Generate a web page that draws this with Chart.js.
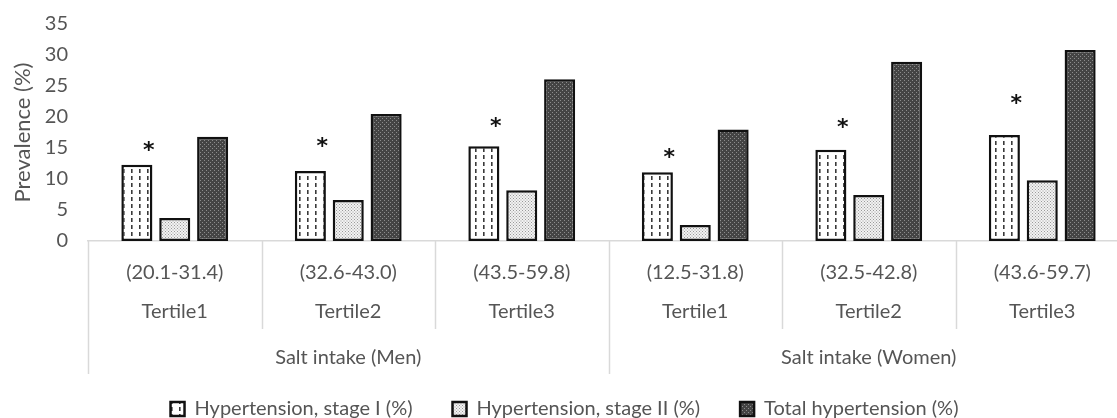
<!DOCTYPE html>
<html>
<head>
<meta charset="utf-8">
<script src="https://cdn.jsdelivr.net/npm/chart.js@4.4.0/dist/chart.umd.min.js"></script>
<style>
  html, body { margin: 0; padding: 0; background: #fff; overflow: hidden; }
  #wrap { width: 1140px; height: 418px; position: relative; }
</style>
</head>
<body>
<div id="wrap"><canvas id="chart"></canvas></div>
<script>
// Data
const ranges = ['(20.1-31.4)', '(32.6-43.0)', '(43.5-59.8)', '(12.5-31.8)', '(32.5-42.8)', '(43.6-59.7)'];
const tertiles = ['Tertile1', 'Tertile2', 'Tertile3', 'Tertile1', 'Tertile2', 'Tertile3'];
const groups = ['Salt intake (Men)', 'Salt intake (Women)'];
const stage1 = [12.3, 11.3, 15.3, 11.1, 14.7, 17.1];
const stage2 = [3.7, 6.6, 8.2, 2.6, 7.4, 9.8];
const totalHt = [16.8, 20.5, 26.1, 18.0, 28.9, 30.8];
const starLevel = [15.5, 16.1, 19.4, 14.4, 19.2, 23.1];
const seriesNames = ['Hypertension, stage I (%)', 'Hypertension, stage II (%)', 'Total hypertension (%)'];
const yMin = 0, yMax = 35, yStep = 5;

const textGrey = '#555555';
const lineGrey = '#d9d9d9';
const fontFamily = 'Lato, "Open Sans", sans-serif';

function makePattern(w, h, draw) {
  const c = document.createElement('canvas');
  c.width = w;
  c.height = h;
  const g = c.getContext('2d');
  draw(g);
  return g.createPattern(c, 'repeat');
}

// white with short vertical dashes
const dashPattern = makePattern(8, 7, g => {
  g.fillStyle = '#ffffff';
  g.fillRect(0, 0, 8, 7);
  g.fillStyle = '#3a3a3a';
  g.fillRect(3, 1, 1.6, 4);
});
// light grey fine dots
const lightDots = makePattern(3, 3, g => {
  g.fillStyle = '#f2f2f2';
  g.fillRect(0, 0, 3, 3);
  g.fillStyle = '#9a9a9a';
  g.fillRect(0, 0, 1, 1);
  g.fillRect(1.5, 1.5, 1, 1);
});
// dark grey checker dots
const darkDots = makePattern(4, 4, g => {
  g.fillStyle = '#444444';
  g.fillRect(0, 0, 4, 4);
  g.fillStyle = '#8c8c8c';
  g.fillRect(0, 0, 1, 1);
  g.fillRect(2, 2, 1, 1);
});

// Category labels, separators and asterisks
const axisLabels = {
  id: 'axisLabels',
  afterDraw(chart) {
    const { ctx, chartArea, scales } = chart;
    const x = scales.x;
    const bottom = chartArea.bottom;
    const step = x.getPixelForValue(1) - x.getPixelForValue(0);
    const start = x.getPixelForValue(0) - step / 2;
    const perGroup = tertiles.length / groups.length;

    ctx.save();
    ctx.strokeStyle = lineGrey;
    ctx.lineWidth = 1.5;
    for (let i = 0; i <= tertiles.length; i++) {
      const xb = Math.round(start + i * step) + 0.5;
      const long = i % perGroup === 0;
      ctx.beginPath();
      ctx.moveTo(xb, bottom);
      ctx.lineTo(xb, bottom + (long ? 133 : 88));
      ctx.stroke();
    }

    ctx.fillStyle = textGrey;
    ctx.font = '20px ' + fontFamily;
    ctx.textAlign = 'center';
    ctx.textBaseline = 'middle';
    tertiles.forEach((t, i) => {
      const cx = x.getPixelForValue(i);
      ctx.fillText(ranges[i], cx, bottom + 32);
      ctx.fillText(t, cx, bottom + 71);
    });
    groups.forEach((g, k) => {
      const cx = start + (k + 0.5) * perGroup * step;
      ctx.fillText(g, cx, bottom + 117);
    });

    // significance markers
    const meta = chart.getDatasetMeta(0);
    ctx.fillStyle = '#111';
    ctx.font = 'bold 22px "DejaVu Sans", sans-serif';
    ctx.textBaseline = 'alphabetic';
    starLevel.forEach((v, i) => {
      const bar = meta.data[i];
      const py = scales.y.getPixelForValue(v);
      ctx.fillText('*', bar.x + 12, py + 12);
    });
    ctx.restore();
  }
};

const ctx = document.getElementById('chart');
new Chart(ctx, {
  type: 'bar',
  data: {
    labels: tertiles,
    datasets: [
      { label: seriesNames[0], data: stage1, backgroundColor: dashPattern },
      { label: seriesNames[1], data: stage2, backgroundColor: lightDots },
      { label: seriesNames[2], data: totalHt, backgroundColor: darkDots }
    ].map(d => Object.assign(d, {
      borderColor: '#111111',
      borderWidth: 2.5,
      borderSkipped: false,
      categoryPercentage: 0.655,
      barPercentage: 0.82
    }))
  },
  options: {
    responsive: true,
    maintainAspectRatio: false,
    animation: false,
    layout: { padding: { top: -2, right: 11, left: 0, bottom: -11 } },
    plugins: {
      tooltip: { enabled: false },
      legend: {
        position: 'bottom',
        labels: {
          color: textGrey,
          font: { family: fontFamily, size: 20 },
          boxWidth: 14,
          boxHeight: 14,
          padding: 40
        }
      }
    },
    scales: {
      x: {
        grid: { display: false },
        border: { display: true, color: lineGrey, width: 1.5 },
        ticks: { display: false },
        afterFit: scale => { scale.height = 118; }
      },
      y: {
        min: yMin,
        max: yMax,
        grid: { display: false },
        border: { display: false },
        ticks: {
          stepSize: yStep,
          padding: 12,
          color: textGrey,
          font: { family: fontFamily, size: 20 }
        },
        title: {
          display: true,
          text: 'Prevalence (%)',
          color: textGrey,
          font: { family: fontFamily, size: 22 },
          padding: { top: 10, bottom: 0 }
        },
        afterFit: scale => { scale.width = 88; }
      }
    }
  },
  plugins: [axisLabels]
});
</script>
</body>
</html>
